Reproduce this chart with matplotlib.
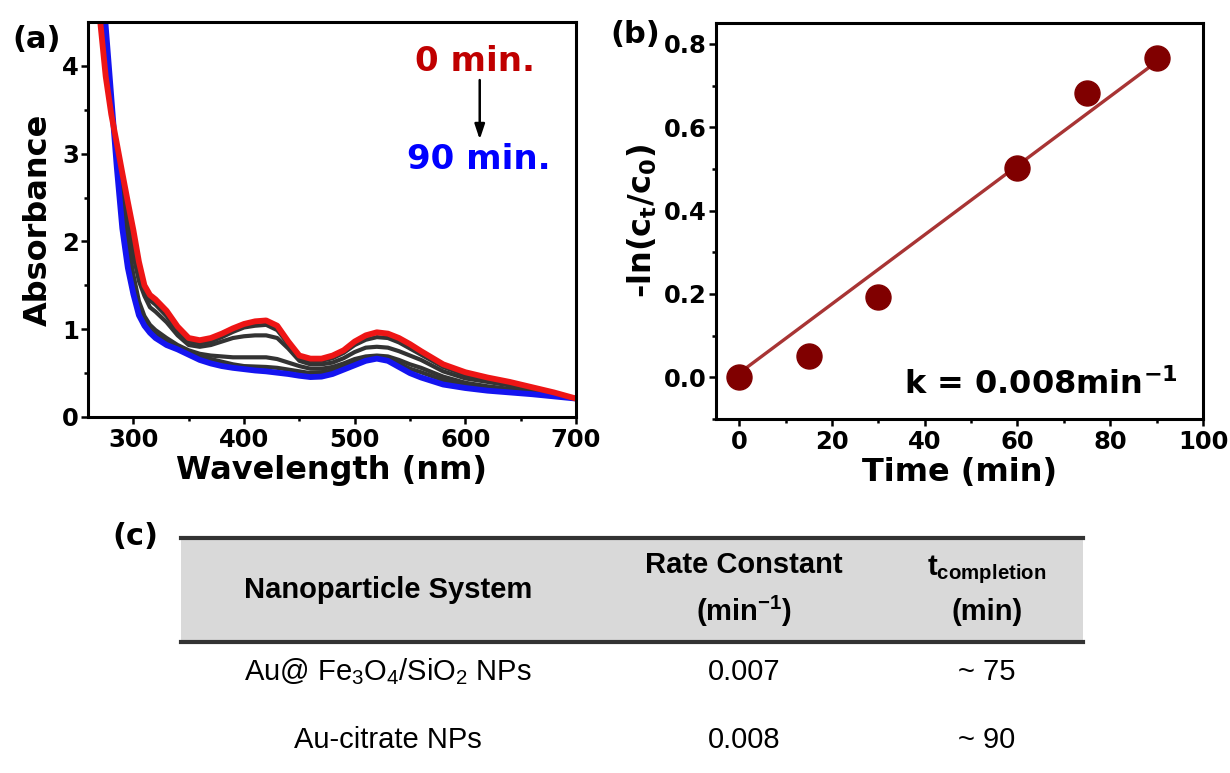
import matplotlib
matplotlib.use('Agg')
import matplotlib.pyplot as plt
from matplotlib.patches import Rectangle
from matplotlib.font_manager import FontProperties

plt.rcParams['font.family'] = ['DejaVu Sans']
plt.rcParams['font.weight'] = 'bold'
plt.rcParams['mathtext.default'] = 'regular'

# ---- (a) UV-vis spectra, 0 -> 90 min
wavelength = [270, 275, 280, 285, 290, 295, 300, 305, 310, 315, 320, 330, 340, 350,
              360, 370, 380, 390, 400, 410, 420, 430, 440, 450, 460, 470, 480, 490,
              500, 510, 520, 530, 540, 550, 560, 580, 600, 620, 640, 660, 680, 700]
abs_0min = [4.51, 3.88, 3.45, 3.12, 2.78, 2.45, 2.13, 1.77, 1.50, 1.39, 1.34, 1.21, 1.03, 0.90,
            0.875, 0.90, 0.95, 1.01, 1.06, 1.09, 1.10, 1.04, 0.86, 0.70, 0.665, 0.665, 0.70, 0.76,
            0.86, 0.93, 0.965, 0.95, 0.90, 0.83, 0.75, 0.60, 0.51, 0.45, 0.40, 0.34, 0.28, 0.21]
abs_15min = [4.55, 3.95, 3.50, 3.07, 2.68, 2.30, 1.95, 1.65, 1.45, 1.33, 1.28, 1.15, 0.98, 0.86,
             0.84, 0.86, 0.91, 0.97, 1.02, 1.04, 1.05, 0.99, 0.83, 0.68, 0.64, 0.64, 0.67, 0.73,
             0.82, 0.88, 0.91, 0.90, 0.85, 0.78, 0.71, 0.57, 0.48, 0.43, 0.38, 0.33, 0.27, 0.21]
abs_30min = [4.60, 4.05, 3.55, 3.02, 2.58, 2.18, 1.84, 1.55, 1.38, 1.25, 1.20, 1.08, 0.93, 0.82,
             0.80, 0.82, 0.86, 0.90, 0.92, 0.93, 0.93, 0.90, 0.78, 0.64, 0.60, 0.60, 0.62, 0.67,
             0.74, 0.79, 0.80, 0.79, 0.75, 0.70, 0.65, 0.52, 0.44, 0.40, 0.36, 0.31, 0.26, 0.21]
abs_60min = [4.70, 4.20, 3.60, 2.95, 2.40, 2.00, 1.62, 1.32, 1.15, 1.05, 0.99, 0.90, 0.82, 0.76,
             0.72, 0.70, 0.69, 0.68, 0.68, 0.68, 0.68, 0.66, 0.62, 0.58, 0.55, 0.55, 0.57, 0.61,
             0.66, 0.69, 0.70, 0.69, 0.65, 0.60, 0.56, 0.46, 0.39, 0.35, 0.32, 0.29, 0.25, 0.21]
abs_75min = [4.80, 4.30, 3.62, 2.90, 2.28, 1.85, 1.50, 1.23, 1.08, 0.99, 0.94, 0.86, 0.79, 0.73,
             0.69, 0.66, 0.63, 0.60, 0.58, 0.575, 0.57, 0.56, 0.54, 0.52, 0.50, 0.51, 0.53, 0.58,
             0.62, 0.66, 0.67, 0.66, 0.61, 0.55, 0.51, 0.42, 0.36, 0.33, 0.30, 0.275, 0.24, 0.21]
abs_90min = [5.30, 4.45, 3.65, 2.85, 2.15, 1.70, 1.40, 1.16, 1.04, 0.96, 0.90, 0.82, 0.77, 0.71,
             0.65, 0.61, 0.58, 0.56, 0.545, 0.53, 0.52, 0.505, 0.49, 0.47, 0.455, 0.46, 0.49, 0.54,
             0.59, 0.64, 0.665, 0.64, 0.57, 0.50, 0.45, 0.37, 0.33, 0.30, 0.28, 0.26, 0.235, 0.21]

# ---- (b) kinetics
time_min = [0, 15, 30, 60, 75, 90]
neg_ln = [0.0, 0.05, 0.193, 0.503, 0.683, 0.767]
fit_time = [0, 90]
fit_val = [0.01, 0.757]

# ---- (c) table
col_headers = ['Nanoparticle System', 'Rate Constant\n(min$^{-1}$)',
               't$_{completion}$\n(min)']
row_systems = ['Au@ Fe$_3$O$_4$/SiO$_2$ NPs', 'Au-citrate NPs']
row_rates = ['0.007', '0.008']
row_times = ['~ 75', '~ 90']

fig = plt.figure(figsize=(12.3, 7.73), dpi=100)
W, H = 1230, 773

def style_axes(ax):
    for s in ax.spines.values():
        s.set_linewidth(2.2)
    ax.tick_params(which='both', direction='out', top=False, right=False,
                   width=1.8, labelsize=17.5)
    ax.tick_params(which='major', length=5)
    ax.tick_params(which='minor', length=3)
    ax.tick_params(axis='x', pad=3)
    ax.tick_params(axis='y', pad=1.5)

# (a)
ax1 = fig.add_axes([88/W, 1-417/H, (576-88)/W, (417-22)/H])
for spec in [abs_15min, abs_30min, abs_60min, abs_75min]:
    ax1.plot(wavelength, spec, color='#333333', lw=3)
ax1.plot(wavelength, abs_90min, color='#1414F0', lw=4.2)
ax1.plot(wavelength, abs_0min, color='#EE1515', lw=4.2)
ax1.set_xlim(259, 700)
ax1.set_ylim(0, 4.5)
ax1.set_xticks([300, 400, 500, 600, 700])
ax1.set_xticks([350, 450, 550, 650], minor=True)
ax1.set_yticks([0, 1, 2, 3, 4])
ax1.set_yticks([0.5, 1.5, 2.5, 3.5], minor=True)
style_axes(ax1)
ax1.set_xlabel('Wavelength (nm)', fontsize=23, fontweight='bold', labelpad=2)
ax1.set_ylabel('Absorbance', fontsize=23, fontweight='bold', labelpad=6)
ax1.text(609, 3.94, '0 min.', color='#C00000', fontsize=24.5, fontweight='bold',
         ha='center', va='baseline')
ax1.text(612, 2.83, '90 min.', color='#0000FF', fontsize=24.5, fontweight='bold',
         ha='center', va='baseline')
ax1.annotate('', xy=(613, 3.13), xytext=(613, 3.87),
             arrowprops=dict(arrowstyle='-|>,head_width=0.3,head_length=0.9',
                             color='black', lw=1.8))

# (b)
ax2 = fig.add_axes([716/W, 1-419/H, (1203-716)/W, (419-23)/H])
ax2.plot(fit_time, fit_val, color='#A83434', lw=2.4, zorder=2)
ax2.plot(time_min, neg_ln, 'o', color='#800000', ms=18, zorder=3)
ax2.set_xlim(-5, 100)
ax2.set_ylim(-0.1, 0.85)
ax2.set_xticks([0, 20, 40, 60, 80, 100])
ax2.set_xticks([10, 30, 50, 70, 90], minor=True)
ax2.set_yticks([0.0, 0.2, 0.4, 0.6, 0.8])
ax2.set_yticks([-0.1, 0.1, 0.3, 0.5, 0.7], minor=True)
ax2.set_yticklabels(['0.0', '0.2', '0.4', '0.6', '0.8'])
style_axes(ax2)
ax2.set_xlabel('Time (min)', fontsize=23, fontweight='bold', labelpad=2)
ax2.set_ylabel('-ln(c$_t$/c$_0$)', fontsize=23, fontweight='bold', labelpad=4)
ax2.text(94.6, -0.041, 'k = 0.008min$^{-1}$', fontsize=23, fontweight='bold',
         ha='right', va='baseline')

# panel labels
fig.text(12/W, 1-25/H, '(a)', fontsize=22, fontweight='bold', va='top', ha='left')
fig.text(610/W, 1-20/H, '(b)', fontsize=22, fontweight='bold', va='top', ha='left')
fig.text(112/W, 1-522/H, '(c)', fontsize=22, fontweight='bold', va='top', ha='left')

# (c) table drawn in pixel space
axt = fig.add_axes([0, 0, 1, 1], zorder=-1)
axt.set_xlim(0, W)
axt.set_ylim(H, 0)
axt.axis('off')
tab_left, tab_right = 181, 1083
head_top, head_bot = 538, 642
col_x = [388, 744, 987]
row_y = [672, 740]
axt.add_patch(Rectangle((tab_left, head_top), tab_right-tab_left, head_bot-head_top,
                        facecolor='#D9D9D9', edgecolor='none'))
axt.plot([tab_left, tab_right], [head_top, head_top], color='#333333', lw=3)
axt.plot([tab_left, tab_right], [head_bot, head_bot], color='#333333', lw=3)

tfont_b = FontProperties(family='Liberation Sans', weight='bold', size=21)
tfont_r = FontProperties(family='Liberation Sans', weight='normal', size=21)
head_y = (head_top + head_bot) / 2
for x, txt in zip(col_x, col_headers):
    axt.text(x, head_y, txt, fontproperties=tfont_b, ha='center', va='center',
             multialignment='center', linespacing=1.55)
for i, y in enumerate(row_y):
    axt.text(col_x[0], y, row_systems[i], fontproperties=tfont_r, ha='center', va='center')
    axt.text(col_x[1], y, row_rates[i], fontproperties=tfont_r, ha='center', va='center')
    axt.text(col_x[2], y, row_times[i], fontproperties=tfont_r, ha='center', va='center')

fig.savefig('out.png', dpi=100)
